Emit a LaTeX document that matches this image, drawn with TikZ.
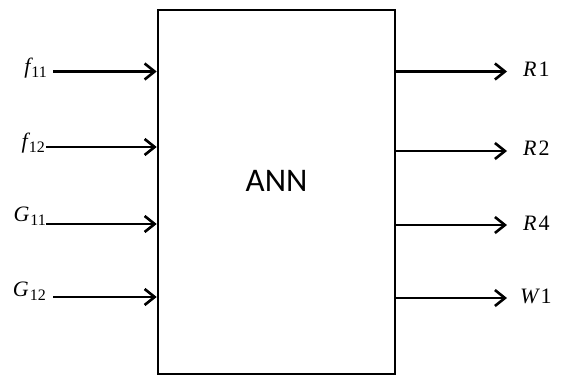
\documentclass[tikz,border=0pt]{standalone}
\usepackage{fontspec}
\newfontfamily\calib{Carlito}
\newfontfamily\labf{Liberation Serif}
\newcommand{\labsub}[2]{{\itshape #1}\kern1pt\raisebox{-4pt}{\fontsize{16}{16}\selectfont #2}}
\usetikzlibrary{arrows.meta}
\begin{document}
\begin{tikzpicture}[x=1pt,y=-1pt,
  arr/.style={line width=2.4pt,-{Straight Barb[length=10pt,width=16pt,line width=2.6pt]}},
  lab/.style={inner sep=0pt,font=\labf\fontsize{22}{22}\selectfont},
  box/.style={draw,line width=2.6pt,minimum width=237pt,minimum height=364pt,inner sep=0pt}]
\useasboundingbox (0,0) rectangle (569,376);
\node[box] (ann) at (276.5,192) {};
\node[inner sep=0pt,font=\calib\fontsize{33}{33}\selectfont] (annlab) at (276.5,181) {ANN};
% inputs
\coordinate (i1) at (53,71.5);
\coordinate (i2) at (46,147);
\coordinate (i3) at (46,224);
\coordinate (i4) at (53,297);
\foreach \c in {i1,i2,i3,i4}{\draw[arr] (\c) -- (\c -| ann.west);}
\node[lab,anchor=east] (lf11) at (47,68) {\labsub{f}{11}};
\node[lab,anchor=east] (lf12) at (45,143) {\labsub{f}{12}};
\node[lab,anchor=east] (lg11) at (46,216) {\labsub{G}{11}};
\node[lab,anchor=east] (lg12) at (46,291) {\labsub{G}{12}};
% outputs
\coordinate (o1) at (507,71.5);
\coordinate (o2) at (507,151);
\coordinate (o3) at (507,225);
\coordinate (o4) at (507,298);
\foreach \c in {o1,o2,o3,o4}{\draw[arr] (\c -| ann.east) -- (\c);}
\node[lab,anchor=west] (lr1) at (523,69) {{\itshape R}\kern2pt 1};
\node[lab,anchor=west] (lr2) at (523,148) {{\itshape R}\kern2pt 2};
\node[lab,anchor=west] (lr4) at (523,223) {{\itshape R}\kern2pt 4};
\node[lab,anchor=west] (lw1) at (520,296) {{\itshape W}\kern2pt 1};
\end{tikzpicture}
\end{document}
